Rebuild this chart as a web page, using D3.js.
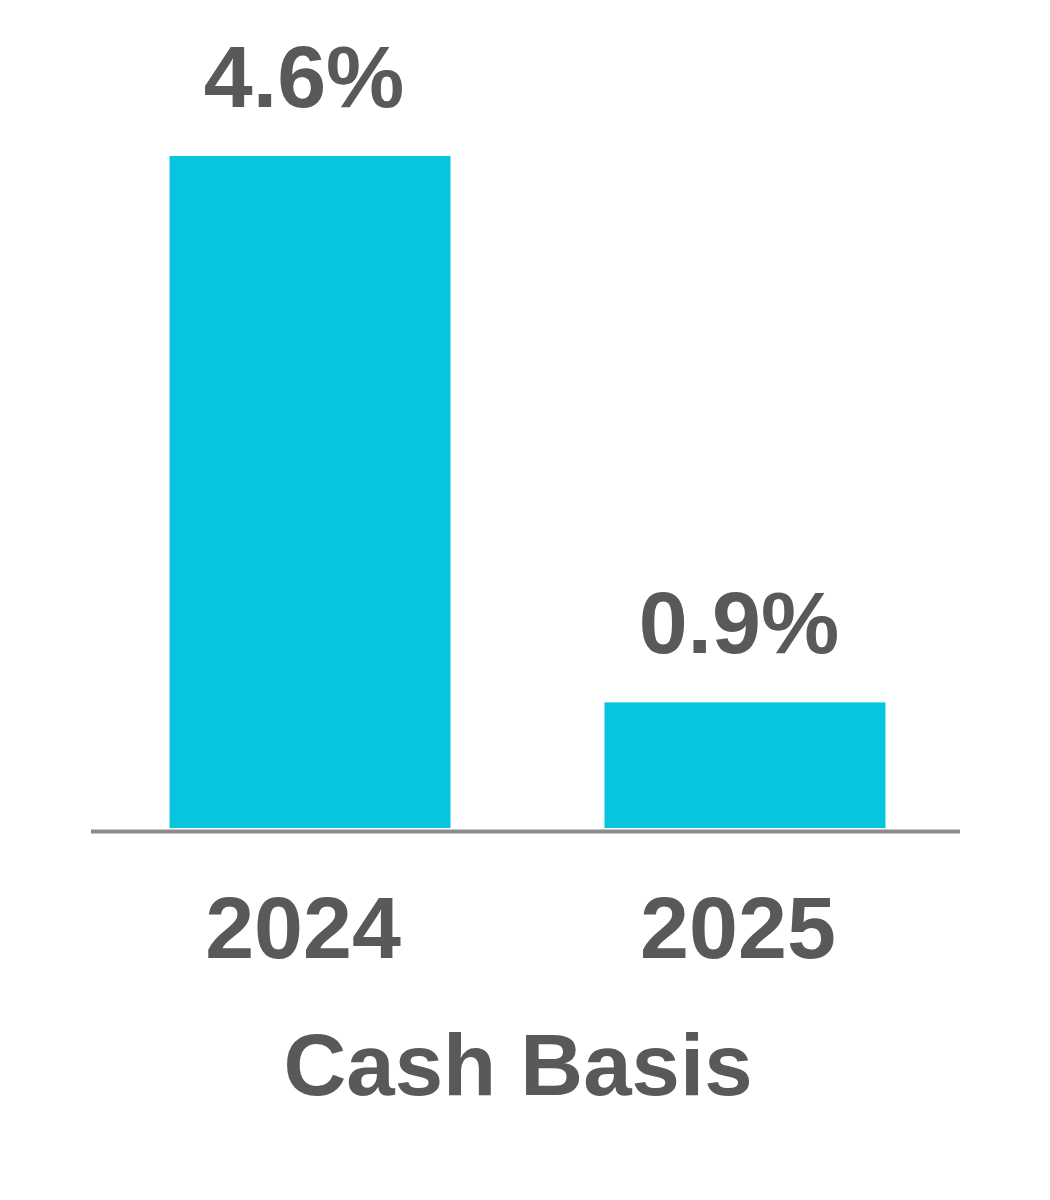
<!DOCTYPE html>
<html>
<head>
<meta charset="utf-8">
<script src="https://cdn.jsdelivr.net/npm/d3@7"></script>
<style>
  html, body { margin: 0; padding: 0; background: #ffffff; }
  svg { display: block; }
  text { font-family: "Liberation Sans", Arial, sans-serif; font-weight: bold; fill: #595959; }
</style>
</head>
<body>
<svg id="chart" width="1050" height="1200"></svg>
<script>
const categories = ["2024", "2025"];
const values = [4.6, 0.86];
const valueLabels = ["4.6%", "0.9%"];
const axisTitle = "Cash Basis";

const svg = d3.select("#chart");
const baseY = 828;

const x = d3.scaleBand()
  .domain(categories)
  .range([93, 962])
  .paddingInner(0.354)
  .paddingOuter(0.176);

const y = d3.scaleLinear()
  .domain([0, 4.6])
  .range([baseY, 156]);

const data = categories.map((c, i) => ({ cat: c, v: values[i], label: valueLabels[i] }));

svg.selectAll("rect.bar")
  .data(data)
  .enter().append("rect")
  .attr("class", "bar")
  .attr("x", d => x(d.cat))
  .attr("y", d => y(d.v))
  .attr("width", x.bandwidth())
  .attr("height", d => y(0) - y(d.v))
  .attr("fill", "#07C4DF");

// baseline
svg.append("line")
  .attr("x1", 91).attr("x2", 960)
  .attr("y1", baseY + 3.5).attr("y2", baseY + 3.5)
  .attr("stroke", "#8C8C8C")
  .attr("stroke-width", 4);

// value labels
svg.selectAll("text.val")
  .data(data)
  .enter().append("text")
  .attr("class", "val")
  .attr("x", d => x(d.cat) + x.bandwidth() / 2 - 6)
  .attr("y", d => y(d.v) - 49)
  .attr("text-anchor", "middle")
  .attr("font-size", 88)
  .text(d => d.label);

// category labels
svg.selectAll("text.cat")
  .data(data)
  .enter().append("text")
  .attr("class", "cat")
  .attr("x", d => x(d.cat) + x.bandwidth() / 2 - 7)
  .attr("y", 958)
  .attr("text-anchor", "middle")
  .attr("font-size", 88)
  .text(d => d.cat);

// axis title
svg.append("text")
  .attr("x", 518)
  .attr("y", 1095)
  .attr("text-anchor", "middle")
  .attr("font-size", 87)
  .text(axisTitle);
</script>
</body>
</html>
